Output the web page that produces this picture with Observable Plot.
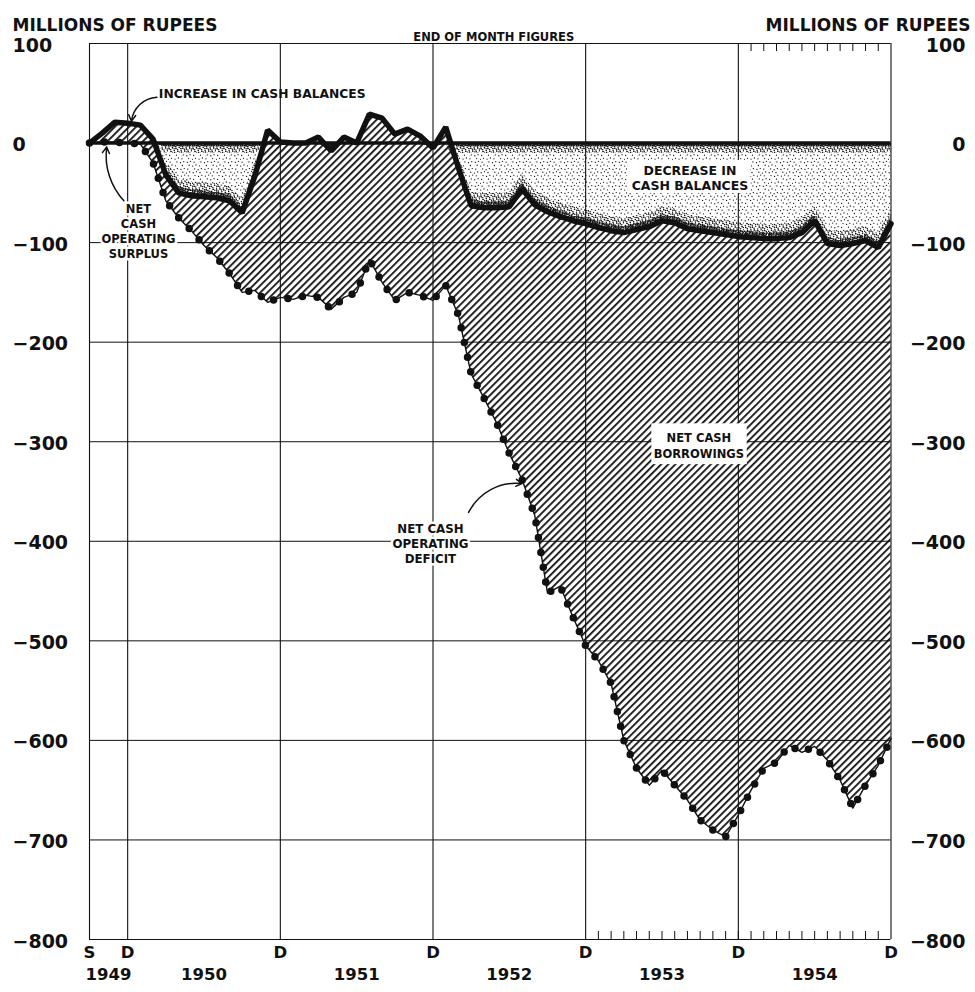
<!DOCTYPE html>
<html><head><meta charset="utf-8">
<script src="https://cdn.jsdelivr.net/npm/d3@7"></script>
<script src="https://cdn.jsdelivr.net/npm/@observablehq/plot@0.6"></script>
<style>body{margin:0;background:#fff} svg{display:block}</style>
</head><body><div id="chart"></div>
<script>
// ---- data (millions of rupees, end of month, cumulative from Sep 1949) ----
const months = [
  "1949-09","1949-10","1949-11","1949-12",
  "1950-01","1950-02","1950-03","1950-04","1950-05","1950-06","1950-07","1950-08","1950-09","1950-10","1950-11","1950-12",
  "1951-01","1951-02","1951-03","1951-04","1951-05","1951-06","1951-07","1951-08","1951-09","1951-10","1951-11","1951-12",
  "1952-01","1952-02","1952-03","1952-04","1952-05","1952-06","1952-07","1952-08","1952-09","1952-10","1952-11","1952-12",
  "1953-01","1953-02","1953-03","1953-04","1953-05","1953-06","1953-07","1953-08","1953-09","1953-10","1953-11","1953-12",
  "1954-01","1954-02","1954-03","1954-04","1954-05","1954-06","1954-07","1954-08","1954-09","1954-10","1954-11","1954-12"
];
// change in cash balances (thick line)
const cashBalanceChange = [
  0, 10, 21, 20,
  18, 4, -32, -50, -53, -54, -55, -58, -70, -33, 13, 1,
  0, 0, 6, -8, 6, 0, 29, 25, 9, 14, 7, -5,
  16, -25, -63, -65, -65, -64, -46, -62, -69, -74, -78, -81,
  -85, -88, -90, -87, -84, -78, -80, -86, -88, -90, -92, -94,
  -95, -96, -96, -95, -90, -78, -101, -103, -101, -98, -105, -81
];
// net cash operating surplus (+) / deficit (-) (beaded line)
const netCashOperating = [
  0, 1, 1, 0,
  -1, -20, -58, -75, -88, -103, -115, -131, -150, -148, -160, -155,
  -157, -153, -155, -167, -155, -150, -117, -140, -158, -150, -153, -158,
  -143, -173, -232, -256, -281, -312, -338, -374, -452, -445, -476, -505,
  -520, -543, -600, -628, -645, -630, -645, -660, -680, -690, -697, -675,
  -650, -628, -622, -605, -612, -606, -620, -640, -668, -645, -625, -598
];
const yTicks = [100, 0, -100, -200, -300, -400, -500, -600, -700, -800];
const axisLetters = [
  {month: "1949-09", letter: "S"}, {month: "1949-12", letter: "D"}, {month: "1950-12", letter: "D"},
  {month: "1951-12", letter: "D"}, {month: "1952-12", letter: "D"}, {month: "1953-12", letter: "D"},
  {month: "1954-12", letter: "D"}
];
const years = ["1949", "1950", "1951", "1952", "1953", "1954"];
const verticalLines = ["1949-09", "1949-12", "1950-12", "1951-12", "1952-12", "1953-12", "1954-12"];
const bottomMinorTicks = months.filter(m => m >= "1953-01" && m <= "1954-11");
const topMinorTicks = months.filter(m => m >= "1954-01" && m <= "1954-11");

// ---- layout ----
const W = 975, H = 992;
const mL = 89, mR = 84.5, mT = 43, mB = 53;
const frameH = H - mT - mB;
const ink = "#111";
const font = "DejaVu Sans, sans-serif";

const monthIndex = s => { const [y, m] = s.split("-").map(Number); return (y - 1949) * 12 + (m - 9); };
const data = months.map((m, k) => ({i: monthIndex(m), cash: cashBalanceChange[k], op: netCashOperating[k]}));
const low = d => Math.min(0, d.cash);
const fmt = v => v < 0 ? "\u2212" + Math.abs(v) : String(v);
const yearX = y => y === "1949" ? 1.5 : 9 + 12 * (+y - 1950);

const T = (extra) => Object.assign({fontFamily: font, fontWeight: "bold", fill: ink}, extra);

const chart = Plot.plot({
  width: W, height: H,
  marginLeft: mL, marginRight: mR, marginTop: mT, marginBottom: mB,
  x: {domain: [0, 63], axis: null},
  y: {domain: [-800, 100], axis: null},
  style: {background: "white", fontFamily: font},
  marks: [
    // decrease in cash balances (stipple)
    Plot.areaY(data, {x: "i", y1: 0, y2: low, fill: "url(#stipple)"}),
    Plot.areaY(data, {x: "i", y1: low, y2: d => Math.min(0, low(d) + 14), fill: "url(#stippleMid)"}),
    Plot.areaY(data, {x: "i", y1: low, y2: d => Math.min(0, low(d) + 6), fill: "url(#stippleDense)"}),
    Plot.areaY(data, {x: "i", y1: d => Math.max(low(d), -10), y2: 0, fill: "url(#stippleMid)"}),
    Plot.areaY(data, {x: "i", y1: d => Math.max(low(d), -4), y2: 0, fill: "url(#stippleDense)"}),
    // net cash borrowings (hatch)
    Plot.areaY(data, {x: "i", y1: "op", y2: "cash", fill: "url(#hatch)"}),
    // grid & frame
    Plot.ruleY(yTicks, {stroke: ink, strokeWidth: 1}),
    Plot.ruleX(verticalLines, {x: monthIndex, stroke: ink, strokeWidth: 1.1}),
    Plot.tickX(bottomMinorTicks, {x: monthIndex, stroke: ink, strokeWidth: 1, insetTop: frameH - 8}),
    Plot.tickX(topMinorTicks, {x: monthIndex, stroke: ink, strokeWidth: 1, insetBottom: frameH - 8}),
    Plot.ruleY([0], {stroke: ink, strokeWidth: 3.5}),
    // series
    Plot.line(data, {x: "i", y: "cash", stroke: ink, strokeWidth: 5.5, strokeLinejoin: "miter"}),
    Plot.line(data, {x: "i", y: "op", stroke: ink, strokeWidth: 1.4}),
    Plot.line(data, {x: "i", y: "op", stroke: ink, strokeWidth: 7.5, strokeDasharray: "0 15", strokeLinecap: "round"}),
    // text boxes
    Plot.rect([0], {x1: 42.3, x2: 52.0, y1: -17.5, y2: -50.6, fill: "white"}),
    Plot.rect([0], {x1: 44.2, x2: 51.7, y1: -282, y2: -323, fill: "white"}),
    Plot.text(["DECREASE IN\nCASH BALANCES"], T({x: 47.2, y: -35, fontSize: 12.5, lineHeight: 1.2})),
    Plot.text(["NET CASH\nBORROWINGS"], T({x: 47.9, y: -303.5, fontSize: 11.5, lineHeight: 1.35})),
    // annotations
    Plot.text(["INCREASE IN CASH BALANCES"], T({x: 5.45, y: 49.5, textAnchor: "start", fontSize: 12.3})),
    Plot.arrow([0], {x1: 5.3, y1: 46, x2: 3.3, y2: 22, bend: -40, stroke: ink, strokeWidth: 1.5, headLength: 7}),
    Plot.text(["NET\nCASH\nOPERATING\nSURPLUS"], T({x: 3.85, y: -88, fontSize: 11.5, lineHeight: 1.33, stroke: "white", strokeWidth: 5, paintOrder: "stroke"})),
    Plot.arrow([0], {x1: 2.7, y1: -58, x2: 1.35, y2: -4, bend: 25, stroke: ink, strokeWidth: 1.5, headLength: 7}),
    Plot.text(["NET CASH\nOPERATING\nDEFICIT"], T({x: 26.8, y: -402, fontSize: 11.8, lineHeight: 1.28, stroke: "white", strokeWidth: 5, paintOrder: "stroke"})),
    Plot.arrow([0], {x1: 29.8, y1: -371, x2: 34.0, y2: -342, bend: 35, stroke: ink, strokeWidth: 1.5, headLength: 7}),
    // titles
    Plot.text(["MILLIONS OF RUPEES"], T({frameAnchor: "top-left", dx: -77, dy: -25, textAnchor: "start", fontSize: 17})),
    Plot.text(["MILLIONS OF RUPEES"], T({frameAnchor: "top-right", dx: 79.5, dy: -25, textAnchor: "end", fontSize: 17})),
    Plot.text(["END OF MONTH FIGURES"], T({frameAnchor: "top", dx: 3.5, dy: -11, fontSize: 11.5})),
    // axis labels
    Plot.text(yTicks, T({y: d => d, text: fmt, frameAnchor: "left", dx: -77, dy: 2, textAnchor: "start", fontSize: 19})),
    Plot.text(yTicks, T({y: d => d, text: fmt, frameAnchor: "right", dx: 74.5, dy: 2, textAnchor: "end", fontSize: 19})),
    Plot.text(axisLetters, T({x: d => monthIndex(d.month), text: "letter", frameAnchor: "bottom", dy: 18, fontSize: 16.5})),
    Plot.text(years, T({x: yearX, text: d => d, frameAnchor: "bottom", dy: 40, fontSize: 16.5}))
  ]
});

// ---- fill patterns ----
const svg = d3.select(chart);
const defs = svg.insert("defs", ":first-child");
const hatch = defs.append("pattern").attr("id", "hatch").attr("patternUnits", "userSpaceOnUse")
  .attr("width", 5).attr("height", 5).attr("patternTransform", "rotate(-45)");
hatch.append("rect").attr("x", 0).attr("y", 0).attr("width", 5).attr("height", 1.8).attr("fill", ink);

function stipple(id, n, r) {
  const s = 24;
  const p = defs.append("pattern").attr("id", id).attr("patternUnits", "userSpaceOnUse").attr("width", s).attr("height", s);
  const a1 = 0.7548776662, a2 = 0.5698402910;
  for (let k = 1; k <= n; k++) {
    p.append("circle").attr("cx", ((0.5 + a1 * k) % 1) * s).attr("cy", ((0.5 + a2 * k) % 1) * s).attr("r", r).attr("fill", ink);
  }
}
stipple("stipple", 40, 0.65);
stipple("stippleMid", 110, 0.75);
stipple("stippleDense", 230, 0.85);

document.getElementById("chart").append(chart);
</script>
</body></html>
